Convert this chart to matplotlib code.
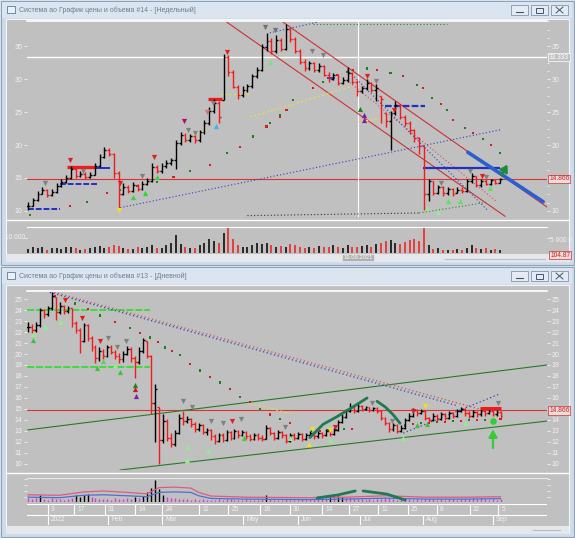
import numpy as np
import matplotlib
matplotlib.use("Agg")
import matplotlib.pyplot as plt
from matplotlib.patches import Rectangle
import matplotlib.transforms as mtransforms

plt.rcParams["font.family"] = ["Liberation Sans", "DejaVu Sans"]

# =====================================================
# Data: weekly chart (#14)
# =====================================================
wk_close = [10.8, 11.6, 12.6, 13.2, 12.4, 12.9, 13.8, 14.4, 15.0, 16.4,
            15.3, 15.6, 15.2, 15.5, 16.8, 18.2, 19.3, 18.6, 15.8, 12.6,
            13.7, 13.1, 13.9, 13.4, 14.1, 14.6, 16.7, 16.1, 16.8, 17.3,
            17.7, 20.3, 21.5, 20.8, 21.3, 20.7, 21.9, 23.3, 25.2, 26.4,
            24.3, 33.3, 31.0, 28.8, 27.6, 28.4, 28.9, 30.4, 31.4, 34.8,
            35.8, 34.3, 35.9, 34.6, 37.6, 36.0, 34.2, 32.6, 31.6, 32.4,
            31.3, 31.9, 30.6, 30.0, 30.6, 29.4, 29.9, 30.9, 29.5, 28.2,
            28.6, 29.4, 28.3, 28.7, 27.0, 23.6, 24.8, 26.0, 24.3, 23.4,
            22.2, 21.0, 19.9, 12.6, 14.5, 12.8, 13.6, 12.7, 13.3, 12.6,
            13.2, 13.0, 14.6, 15.3, 13.9, 14.6, 14.1, 14.7, 14.3, 14.8]
wk_high = [11.3, 12.0, 13.0, 13.7, 13.4, 13.3, 14.2, 14.9, 15.4, 16.8,
           16.6, 16.0, 15.9, 15.9, 17.2, 18.6, 19.7, 19.5, 18.8, 16.0,
           14.2, 13.9, 14.4, 14.1, 14.6, 15.0, 17.3, 16.9, 17.2, 17.7,
           18.1, 20.7, 22.0, 21.8, 21.7, 21.5, 22.3, 23.8, 25.7, 27.0,
           26.6, 33.8, 33.6, 31.4, 29.1, 28.9, 29.3, 30.8, 31.8, 35.3,
           36.9, 36.2, 36.6, 36.2, 38.3, 37.8, 36.3, 34.6, 33.0, 32.8,
           32.6, 32.4, 32.1, 31.0, 30.9, 30.8, 30.3, 31.8, 31.1, 29.8,
           29.0, 30.0, 29.6, 29.2, 27.4, 24.9, 25.2, 26.7, 26.2, 24.6,
           23.7, 22.4, 21.2, 19.9, 14.9, 14.6, 14.0, 13.8, 13.7, 13.5,
           13.6, 13.7, 14.9, 15.7, 15.3, 14.9, 14.9, 14.9, 14.9, 15.0]
wk_low = [10.2, 10.7, 11.5, 12.5, 12.1, 12.2, 12.7, 13.6, 14.3, 14.8,
          15.0, 15.1, 14.9, 15.0, 15.4, 16.6, 18.0, 18.3, 15.0, 10.4,
          12.4, 12.8, 12.9, 13.1, 13.2, 13.9, 14.4, 15.8, 15.8, 16.5,
          17.0, 16.3, 20.0, 20.4, 20.5, 20.3, 20.4, 21.6, 23.0, 24.8,
          23.3, 26.8, 30.5, 28.6, 26.9, 27.3, 28.0, 28.6, 30.1, 31.2,
          34.3, 33.8, 34.0, 34.2, 34.4, 35.6, 33.9, 32.2, 31.2, 31.4,
          31.0, 31.0, 30.4, 29.6, 29.8, 29.1, 29.2, 29.6, 29.2, 27.4,
          27.9, 28.3, 28.0, 26.6, 23.4, 22.7, 19.2, 24.5, 23.9, 22.9,
          21.6, 20.5, 18.6, 10.2, 11.5, 12.4, 12.6, 12.3, 12.4, 12.3,
          12.8, 12.7, 12.9, 14.3, 13.6, 13.7, 13.9, 13.9, 14.1, 14.2]
wk_vol = [0.15, 0.22, 0.18, 0.25, 0.12, 0.18, 0.20, 0.14, 0.22, 0.25,
          0.18, 0.12, 0.14, 0.20, 0.22, 0.28, 0.18, 0.25, 0.32, 0.28,
          0.20, 0.16, 0.14, 0.22, 0.18, 0.25, 0.30, 0.20, 0.18, 0.32,
          0.40, 0.70, 0.35, 0.25, 0.20, 0.18, 0.30, 0.38, 0.55, 0.45,
          0.40, 0.78, 0.95, 0.55, 0.30, 0.25, 0.22, 0.30, 0.40, 0.35,
          0.38, 0.30, 0.25, 0.28, 0.22, 0.35, 0.30, 0.22, 0.18, 0.25,
          0.20, 0.28, 0.22, 0.25, 0.30, 0.22, 0.18, 0.30, 0.25, 0.22,
          0.28, 0.30, 0.22, 0.35, 0.40, 0.45, 0.50, 0.38, 0.35, 0.42,
          0.50, 0.55, 0.45, 0.98, 0.30, 0.15, 0.18, 0.10, 0.12, 0.10,
          0.15, 0.12, 0.20, 0.30, 0.18, 0.15, 0.20, 0.12, 0.15, 0.10]

wk_sar_up_x = [0.4, 8.8, 12.3, 16.5, 19.3, 22.8, 27.0, 30.5, 34.0, 38.2, 41.7, 44.4, 47.2, 50.0, 52.8, 54.2]
wk_sar_up_y = [9.4, 10.8, 11.4, 12.7, 13.2, 13.8, 14.4, 15.1, 16.0, 17.0, 18.8, 19.7, 21.3, 22.8, 24.5, 25.3]
wk_sar2_x = [50.7, 52.8, 55.6, 59.8, 61.9, 64.7, 66.8, 68.2]
wk_sar2_y = [23.3, 24.3, 26.8, 28.6, 29.6, 30.6, 31.1, 31.4]
wk_sar_dn_x = [71.1, 73.2, 76.0, 78.6, 81.6, 82.8, 84.7, 86.5, 87.8, 89.1, 91.6, 93.3, 95.3, 97.0, 99.0]
wk_sar_dn_y = [31.6, 31.4, 30.9, 30.5, 29.1, 28.6, 27.1, 26.2, 25.3, 23.8, 22.6, 21.8, 20.9, 20.0, 18.8]

wk_tri_dn = [(3.5, 14.2, "#808080"), (8.8, 17.7, "#e02020"), (11.5, 16.0, "#808080"),
             (19.3, 14.3, "#e02020"), (23.9, 15.3, "#808080"), (26.4, 18.2, "#e02020"),
             (32.7, 23.6, "#b01060"), (33.5, 22.3, "#808080"), (35.0, 21.8, "#808080"),
             (37.5, 25.0, "#e07070"), (38.8, 26.4, "#808080"), (41.7, 34.1, "#e02020"),
             (49.7, 37.9, "#707070"), (51.7, 37.4, "#707070"), (59.5, 34.2, "#808080"),
             (61.9, 33.6, "#808080"), (71.0, 30.5, "#e02020"), (73.0, 29.7, "#808080"),
             (76.7, 25.3, "#e02020"), (86.6, 14.2, "#808080"), (92.7, 16.1, "#808080"),
             (95.2, 15.3, "#e02020"), (96.0, 15.2, "#808080")]
wk_tri_up = [(22.0, 12.1, "#40d040"), (24.5, 12.7, "#20e020"), (27.0, 15.2, "#40d040"),
             (39.4, 22.9, "#40b0ff"), (50.7, 32.6, "#80e080"), (69.6, 25.5, "#208020"),
             (70.5, 24.5, "#8020a0"), (70.5, 23.8, "#8020a0"), (88.0, 11.5, "#60e060"),
             (90.6, 11.5, "#60e060"), (96.9, 13.5, "#60e060"), (83.6, 10.5, "#90ee90"),
             (86.0, 9.8, "#90ee90")]

# =====================================================
# Data: daily chart (#13)
# =====================================================
dy_close = [22.5, 22.2, 22.6, 24.0, 23.6, 24.2, 25.3, 23.8, 24.4, 23.9,
            24.2, 22.8, 22.2, 21.2, 22.6, 21.5, 20.6, 19.6, 20.3, 19.8,
            20.6, 20.2, 19.8, 19.5, 20.0, 20.5, 19.6, 19.3, 20.3, 21.3,
            19.8, 15.5, 16.8, 12.2, 13.9, 12.4, 11.8, 12.8, 14.2, 13.9,
            14.1, 13.6, 13.2, 13.5, 12.9, 13.1, 12.5, 12.1, 12.6, 12.2,
            12.9, 12.4, 13.0, 12.6, 12.9, 12.5, 12.3, 12.6, 12.4, 12.3,
            13.3, 12.8, 12.4, 12.9, 12.6, 12.1, 12.6, 12.4, 12.7, 12.3,
            12.6, 12.8, 12.5, 12.8, 12.6, 13.0, 12.7, 13.1, 13.8, 14.3,
            14.8, 15.2, 14.8, 15.3, 15.0, 15.2, 14.9, 15.1, 14.8, 14.2,
            13.7, 13.2, 13.5, 13.0, 13.3, 14.0, 14.4, 14.9, 14.6, 14.8,
            14.2, 14.0, 14.4, 14.1, 14.5, 14.2, 14.6, 14.4, 14.8, 15.0,
            14.6, 14.4, 14.7, 14.5, 14.8, 14.6, 14.8, 14.5, 14.7, 14.4]
dy_high = [22.9, 22.7, 22.9, 24.2, 24.1, 24.4, 25.6, 25.2, 24.7, 24.5,
           24.4, 24.2, 23.0, 22.4, 22.8, 22.7, 21.6, 20.8, 20.6, 20.5,
           20.8, 20.8, 20.4, 20.1, 20.3, 20.7, 20.6, 19.8, 20.6, 21.5,
           21.2, 19.9, 17.3, 15.2, 14.5, 14.1, 12.8, 13.1, 14.5, 14.8,
           14.4, 14.2, 13.8, 13.7, 13.6, 13.3, 13.2, 12.7, 12.8, 12.8,
           13.1, 13.0, 13.2, 13.1, 13.1, 13.0, 12.7, 12.8, 12.8, 12.6,
           13.5, 13.4, 12.9, 13.1, 13.0, 12.7, 12.8, 12.8, 12.9, 12.8,
           12.8, 13.0, 12.9, 13.0, 12.9, 13.2, 13.1, 13.3, 14.0, 14.5,
           15.0, 15.5, 15.3, 15.5, 15.4, 15.3, 15.2, 15.2, 15.2, 14.9,
           14.3, 13.8, 13.7, 13.6, 13.5, 14.2, 14.6, 15.1, 15.0, 15.0,
           14.9, 14.3, 14.6, 14.5, 14.7, 14.6, 14.8, 14.7, 15.0, 15.2,
           15.1, 14.8, 14.9, 14.8, 15.0, 14.9, 15.0, 14.9, 14.9, 14.8]
dy_low = [22.0, 21.9, 22.0, 22.5, 23.3, 23.5, 24.0, 23.1, 23.6, 23.6,
          23.7, 22.5, 21.9, 20.1, 21.1, 21.2, 20.3, 19.2, 19.4, 19.5,
          19.7, 20.0, 19.5, 19.2, 19.3, 19.9, 19.3, 17.8, 19.1, 20.1,
          19.6, 14.5, 12.0, 10.0, 11.9, 12.1, 11.5, 11.6, 12.7, 13.5,
          13.7, 13.4, 12.9, 13.0, 12.7, 12.6, 12.2, 11.8, 12.0, 12.0,
          12.1, 12.2, 12.3, 12.4, 12.5, 12.3, 12.1, 12.2, 12.2, 12.1,
          12.3, 12.6, 12.2, 12.3, 12.4, 11.9, 12.0, 12.2, 12.3, 12.1,
          12.2, 12.5, 12.3, 12.4, 12.4, 12.5, 12.5, 12.6, 13.0, 13.7,
          14.2, 14.7, 14.6, 14.7, 14.8, 14.9, 14.7, 14.8, 14.6, 14.0,
          13.5, 12.9, 13.0, 12.8, 12.9, 13.2, 13.9, 14.3, 14.4, 14.5,
          14.0, 13.8, 13.9, 13.9, 14.0, 14.0, 14.1, 14.2, 14.3, 14.7,
          14.4, 14.2, 14.3, 14.3, 14.4, 14.4, 14.5, 14.4, 14.4, 14.2]
dy_vol = [0.15, 0.12, 0.18, 0.30, 0.12, 0.10, 0.15, 0.12, 0.14, 0.10,
          0.12, 0.15, 0.28, 0.22, 0.30, 0.32, 0.20, 0.15, 0.12, 0.14,
          0.12, 0.10, 0.15, 0.12, 0.14, 0.18, 0.12, 0.22, 0.15, 0.25,
          0.40, 0.60, 0.92, 0.55, 0.30, 0.20, 0.18, 0.15, 0.12, 0.14,
          0.12, 0.10, 0.12, 0.10, 0.12, 0.10, 0.08, 0.10, 0.12, 0.10,
          0.14, 0.12, 0.10, 0.08, 0.10, 0.12, 0.10, 0.08, 0.10, 0.12,
          0.30, 0.12, 0.10, 0.08, 0.10, 0.12, 0.10, 0.08, 0.10, 0.12,
          0.10, 0.12, 0.14, 0.12, 0.15, 0.18, 0.24, 0.20, 0.25, 0.22,
          0.18, 0.15, 0.12, 0.14, 0.12, 0.10, 0.12, 0.10, 0.12, 0.14,
          0.15, 0.18, 0.12, 0.10, 0.12, 0.14, 0.12, 0.10, 0.12, 0.10,
          0.12, 0.14, 0.12, 0.10, 0.12, 0.10, 0.14, 0.12, 0.10, 0.12,
          0.14, 0.12, 0.15, 0.12, 0.18, 0.12, 0.10, 0.12, 0.10, 0.12]
dy_ma_x = [0, 8, 14, 19, 25, 30, 33, 37, 41, 43, 46, 55, 70, 80, 90, 100, 110, 119]
dy_ma_pink = [0.30, 0.28, 0.42, 0.46, 0.40, 0.34, 0.60, 0.62, 0.58, 0.40, 0.25, 0.20, 0.18, 0.20, 0.26, 0.20, 0.20, 0.22]
dy_ma_blue = [0.20, 0.18, 0.28, 0.30, 0.26, 0.22, 0.40, 0.42, 0.40, 0.26, 0.15, 0.12, 0.10, 0.12, 0.16, 0.12, 0.12, 0.14]

dy_sar_x = [3.5, 6.8, 11.8, 15.1, 18.1, 21.9, 25.7, 28.2, 30.7, 32.7, 34.5, 36.3, 38.3, 40.8,
            43.3, 45.8, 48.4, 50.9, 53.4, 55.9, 58.4, 61.0, 63.5, 66.0]
dy_sar_y = [25.8, 25.3, 24.6, 24.1, 23.5, 22.9, 22.4, 21.9, 21.5, 21.1, 20.6, 20.3, 19.9, 19.1,
            18.5, 17.9, 17.4, 16.8, 16.1, 15.6, 15.0, 14.5, 14.1, 13.7]
dy_sar_lo_x = [71.5, 73.5, 75.5, 77.5, 79.5, 81.5, 95, 97, 99, 101, 103, 105, 107, 109, 111, 113, 115, 119]
dy_sar_lo_y = [13.0, 13.0, 13.1, 13.1, 13.2, 13.2, 13.5, 13.6, 13.7, 13.7, 13.8, 13.8, 13.9, 13.9, 14.0, 14.0, 14.0, 14.1]

dy_tri_dn = [(9.3, 24.9, "#e02020"), (13.5, 23.3, "#e02020"), (18.1, 21.2, "#e02020"),
             (20.2, 21.5, "#808080"), (22.3, 20.6, "#808080"), (24.7, 21.2, "#808080"),
             (39.0, 15.7, "#808080"), (41.3, 15.2, "#808080"), (46.0, 13.9, "#808080"),
             (49.1, 13.7, "#808080"), (51.4, 13.9, "#e02020"), (53.7, 14.1, "#808080"),
             (64.7, 13.4, "#808080"), (71.5, 13.2, "#f0e020"), (76.0, 13.1, "#f0e020"),
             (77.3, 13.4, "#e02020"), (86.6, 15.5, "#808080"), (91.7, 13.9, "#808080"),
             (97.0, 14.8, "#e02020"), (100.0, 15.3, "#f0e020"), (118.4, 15.5, "#808080")]
dy_tri_up = [(1.3, 21.3, "#40c040"), (1.3, 21.8, "#90ee90"), (4.3, 22.5, "#90ee90"),
             (8.1, 22.9, "#90ee90"), (17.4, 18.7, "#40c040"), (18.8, 19.4, "#60d060"),
             (21.9, 19.0, "#90ee90"), (23.2, 18.4, "#40c040"), (27.0, 17.2, "#208020"),
             (27.0, 16.85, "#c02020"), (27.3, 16.2, "#8020a0"), (40.0, 11.5, "#90ee90"),
             (45.3, 11.2, "#90ee90"), (40.0, 10.4, "#90ee90"), (54.4, 12.4, "#40d040"),
             (66.0, 12.4, "#90ee90"), (70.8, 11.8, "#f0e020"), (76.0, 12.2, "#90ee90"),
             (94.5, 12.4, "#90ee90"), (98.0, 13.5, "#40c040"), (100.5, 13.6, "#40c040"),
             (110.0, 13.7, "#90ee90")]

dy_date_x = [5.0, 11.6, 19.4, 27.0, 33.8, 43.1, 50.4, 58.4, 66.0, 74.1, 80.9, 88.2, 95.7, 103.0, 111.3, 118.4]
dy_date_lbl = ["3", "17", "31", "14", "24", "11", "25", "16", "30", "14", "27", "11", "25", "8", "22", "5"]
dy_month_x = [5.0, 20.2, 33.8, 54.2, 68.0, 83.6, 99.5, 117.1]
dy_month_lbl = ["2022", "Feb", "Mar", "May", "Jun", "Jul", "Aug", "Sep"]

LAST = 14.866
RED = "#f01c1c"
TXT = "#f2f2f2"
W, H = 575, 538


def px_axes(fig, x0, y0, x1, y1):
    return fig.add_axes([x0 / W, 1 - y1 / H, (x1 - x0) / W, (y1 - y0) / H])


def style(ax, xlim, ylim, yticks=(), labels=True):
    ax.set_xlim(xlim)
    ax.set_ylim(ylim)
    ax.set_facecolor("none")
    for s in ax.spines.values():
        s.set_visible(False)
    ax.set_xticks([])
    ax.set_yticks(yticks)
    ax.tick_params(axis="y", which="both", colors=TXT, labelsize=5, length=2.5,
                   width=0.6, pad=1, left=True, right=True,
                   labelleft=labels, labelright=labels)


def hide_right_label(ax, value):
    # the last-price box sits on top of this tick label
    for t, v in zip(ax.yaxis.get_major_ticks(), ax.get_yticks()):
        if abs(v - value) < 1e-6:
            t.label2.set_visible(False)


def draw_bars(ax, c, h, l, tick):
    c, h, l = np.asarray(c), np.asarray(h), np.asarray(l)
    o = np.clip(np.r_[c[0], c[:-1]], l, h)
    x = np.arange(len(c))
    col = np.where(c < o, RED, "black")
    ax.vlines(x, l, h, colors=col, lw=1.0, zorder=4)
    ax.hlines(o, x - tick, x, colors=col, lw=1.0, zorder=4)
    ax.hlines(c, x, x + tick, colors=col, lw=1.0, zorder=4)
    return col


def sar(ax, xs, ys):
    cols = ["#1f7f1f" if k % 2 == 0 else "#d02020" for k in range(len(xs))]
    ax.scatter(xs, ys, s=2.5, marker="s", c=cols, lw=0, zorder=3)


def tris(ax, items, marker):
    for x, y, c in items:
        ax.scatter([x], [y], s=14, marker=marker, color=c, lw=0, zorder=5)


fig = plt.figure(figsize=(W / 100, H / 100), dpi=100)
fig.patch.set_facecolor("#dde6ef")

# window chrome
bg = fig.add_axes([0, 0, 1, 1], zorder=0)
bg.set_xlim(0, W)
bg.set_ylim(H, 0)
bg.axis("off")
for top, bot, title in [(0, 264, "Система ао График цены и объема #14 - [Недельный]"),
                        (266, 536, "Система ао График цены и объема #13 - [Дневной]")]:
    bg.add_patch(Rectangle((0.5, top + 0.5), W - 1.5, bot - top, fc="#cfdbe8", ec="#8da3ba", lw=0.8))
    bg.add_patch(Rectangle((2, top + 2), W - 5, 16, fc="#dbe5ef", ec="none"))
    bg.add_patch(Rectangle((7, top + 6), 8, 7, fc="#eaf0f6", ec="#5a7ca0", lw=0.6))
    bg.text(19, top + 10.5, title, fontsize=5.0, color="#6d7c8c", va="center")
    for bx in (511, 531, 551):
        bg.add_patch(Rectangle((bx, top + 5), 17, 10, fc="#e4ebf2", ec="#8097ae", lw=0.6))
    bg.plot([516, 523], [top + 12, top + 12], color="#44556a", lw=0.8)
    bg.add_patch(Rectangle((536, top + 8), 7, 5, fc="none", ec="#44556a", lw=0.7))
    bg.plot([556, 563], [top + 7, top + 13], color="#44556a", lw=0.7)
    bg.plot([556, 563], [top + 13, top + 7], color="#44556a", lw=0.7)
    bg.add_patch(Rectangle((6, top + 19), 563, bot - top - 22, fc="#c0c0c0", ec="#f4f6f8", lw=0.8))

bg.add_patch(Rectangle((6, 254), 563, 8, fc="#e4e8ec", ec="none"))
bg.add_patch(Rectangle((6, 526), 563, 8, fc="#e4e8ec", ec="none"))
bg.plot([6, 569], [219.5, 219.5], color="white", lw=1.0)
bg.plot([6, 569], [473, 473], color="white", lw=1.0)
bg.plot([445, 545], [259, 259], color="#b8bec4", lw=0.8)
bg.plot([533, 560], [530, 530], color="#b8bec4", lw=0.8)
bg.text(358, 257.5, "19.09.2021", fontsize=4.2, color="white", ha="center", va="center",
        bbox=dict(boxstyle="square,pad=0.15", fc="#b0b0b0", ec="#e8e8e8", lw=0.5))

# =====================================================
# Weekly price panel
# =====================================================
ax1 = px_axes(fig, 27, 21, 547, 217)
style(ax1, (-0.21, 108.8), (9.09, 38.79), [10, 15, 20, 25, 30, 35])
hide_right_label(ax1, 15)
ax1.set_yticks(np.arange(10, 38.8, 1.25), minor=True)
ax1.tick_params(axis="y", which="minor", left=False, length=1.5)
ax1.spines["top"].set_visible(True)
ax1.spines["top"].set_color("white")
ax1.spines["top"].set_linewidth(1.2)

ax1.axhline(33.333, color="white", lw=1.0, zorder=1)
ax1.axhline(LAST, color="#e03030", lw=0.8, zorder=1)
ax1.axvline(69.2, color="white", lw=0.8, zorder=1)

dot = (0, (1, 2))
ax1.plot([41.7, 100.0], [38.6, 9.2], color="#d03030", lw=0.8, zorder=2)
ax1.plot([53.5, 108.8], [38.6, 10.6], color="#d03030", lw=0.8, zorder=2)
ax1.plot([66.9, 98.3], [29.8, 11.4], color="#d05050", lw=0.8, ls=dot, zorder=2)
ax1.plot([66.9, 96.2], [31.4, 10.2], color="#3040c0", lw=0.8, ls=dot, zorder=2)
ax1.plot([19.3, 99.0], [10.5, 22.3], color="#3040c0", lw=0.8, ls=dot, zorder=2)
ax1.plot([50.7, 60.6], [37.0, 38.6], color="#3040c0", lw=0.8, ls=dot, zorder=2)
ax1.plot([59.7, 87.8], [38.3, 38.3], color="#2a8a2a", lw=0.8, ls=dot, zorder=2)
ax1.plot([46.0, 82.0], [9.3, 9.7], color="#303030", lw=0.8, ls=dot, zorder=2)
ax1.plot([82.0, 96.0], [9.7, 11.3], color="#2a8a2a", lw=0.8, ls=dot, zorder=2)
ax1.plot([46.5, 67.5], [24.2, 28.8], color="#e8e040", lw=0.8, ls=(0, (2, 2)), zorder=2)
ax1.plot([34.6, 37.5], [21.5, 22.3], color="#e8e040", lw=0.8, ls=(0, (2, 2)), zorder=2)
ax1.plot([40.3, 46.5], [27.7, 27.7], color="#e8e040", lw=0.8, ls=(0, (2, 2)), zorder=2)
ax1.plot([69.0, 75.3], [23.5, 24.1], color="#e8e040", lw=0.8, ls=(0, (2, 2)), zorder=2)

ax1.hlines(10.35, 0, 6.7, color="#2030c0", lw=1.4, ls=(0, (3, 1)), zorder=3)
ax1.hlines(14.1, 6.7, 14.5, color="#2030c0", lw=1.4, ls=(0, (3, 1)), zorder=3)
ax1.hlines(16.45, 14.0, 17.2, color="#2030c0", lw=1.4, zorder=3)
ax1.hlines(16.6, 8.2, 14.0, color=RED, lw=2.4, zorder=3)
ax1.hlines(27.0, 37.7, 40.7, color=RED, lw=2.4, zorder=3)
ax1.hlines(30.2, 62.7, 64.4, color="#2030c0", lw=1.2, zorder=3)
ax1.hlines(25.9, 74.8, 83.2, color="#2030c0", lw=1.6, ls=(0, (3, 1)), zorder=3)
ax1.hlines(16.5, 82.8, 99.0, color="#2030c0", lw=1.6, zorder=3)

sar(ax1, wk_sar_up_x, wk_sar_up_y)
sar(ax1, wk_sar2_x, wk_sar2_y)
sar(ax1, wk_sar_dn_x, wk_sar_dn_y)

wk_col = draw_bars(ax1, wk_close, wk_high, wk_low, 0.4)
tris(ax1, wk_tri_dn, "v")
tris(ax1, wk_tri_up, "^")
ax1.scatter([19.0], [10.1], s=14, marker="v", color="#f0e020", lw=0, zorder=5)

ax1.plot([92.2, 108.0], [18.9, 11.4], color="#2a5fd0", lw=2.6, solid_capstyle="round", zorder=6)
ax1.annotate("", xy=(100.8, 17.4), xytext=(99.0, 15.1),
             arrowprops=dict(arrowstyle="-|>,head_width=0.25,head_length=0.4",
                             color="#1f8a3c", lw=1.8), zorder=7)

tr1 = mtransforms.blended_transform_factory(ax1.transAxes, ax1.transData)
ax1.text(1.004, 33.333, "33.333", transform=tr1, fontsize=4.8, color="white", va="center",
         bbox=dict(boxstyle="square,pad=0.1", fc="#c0c0c0", ec="white", lw=0.5))
ax1.text(1.004, LAST, "14.866", transform=tr1, fontsize=4.8, color="#d02020", va="center",
         bbox=dict(boxstyle="square,pad=0.1", fc="#ecdcdc", ec="#d03030", lw=0.5))

# weekly volume
ax2 = px_axes(fig, 27, 227, 547, 253)
style(ax2, (-0.21, 108.8), (0, 1.0), [0.58], labels=False)
ax2.spines["top"].set_visible(True)
ax2.spines["top"].set_color("white")
ax2.spines["top"].set_linewidth(0.8)
ax2.vlines(np.arange(len(wk_vol)), 0, wk_vol, colors=wk_col, lw=1.1)
ax2.text(-0.004, 0.58, "10 000", transform=ax2.transAxes, fontsize=4.8, color=TXT,
         ha="right", va="center")
ax2.text(1.006, 0.5, "5 000 0", transform=ax2.transAxes, fontsize=4.8, color=TXT, va="center")
ax2.text(1.006, -0.08, "104.87", transform=ax2.transAxes, fontsize=4.8, color="#d02020",
         va="center", bbox=dict(boxstyle="square,pad=0.1", fc="#ecdcdc", ec="#d03030", lw=0.5))

# =====================================================
# Daily price panel
# =====================================================
ax3 = px_axes(fig, 27, 291, 547, 470)
style(ax3, (-0.25, 130.7), (9.45, 25.73), list(range(10, 26)))
hide_right_label(ax3, 15)
ax3.spines["top"].set_visible(True)
ax3.spines["top"].set_color("white")
ax3.spines["top"].set_linewidth(1.2)

ax3.axhline(LAST, color="#e03030", lw=0.8, zorder=1)
ax3.hlines(24.0, -0.25, 30.8, color="#30e030", lw=1.3, ls=(0, (4, 1)), zorder=2)
ax3.hlines(18.85, -0.25, 30.8, color="#30e030", lw=1.3, ls=(0, (4, 1)), zorder=2)
ax3.plot([0, 130.7], [13.1, 19.0], color="#2a7a2a", lw=0.8, zorder=2)
ax3.plot([23.2, 130.7], [9.45, 13.9], color="#2a7a2a", lw=0.8, zorder=2)
ax3.plot([4.8, 114.6], [25.8, 14.9], color="#d05050", lw=0.9, ls=dot, zorder=2)
ax3.plot([5.5, 108.1], [25.6, 15.3], color="#3040c0", lw=0.9, ls=dot, zorder=2)
ax3.plot([94.5, 119.0], [12.8, 16.4], color="#3040c0", lw=0.9, ls=dot, zorder=2)
ax3.plot([55.9, 66.0], [15.5, 14.6], color="#e8e040", lw=0.8, ls=(0, (2, 2)), zorder=2)

sar(ax3, dy_sar_x, dy_sar_y)
sar(ax3, dy_sar_lo_x, dy_sar_lo_y)

dy_col = draw_bars(ax3, dy_close, dy_high, dy_low, 0.45)
tris(ax3, dy_tri_dn, "v")
tris(ax3, dy_tri_up, "^")
ax3.hlines(15.05, 113.9, 119.0, color=RED, lw=2.2, zorder=5)
ax3.scatter([117.1], [13.9], s=22, marker="o", color="#30d030", lw=0, zorder=5)

ax3.plot([71.0, 74.3, 77.8, 81.9, 85.4], [12.4, 13.6, 14.3, 15.2, 16.0],
         color="#1d7a55", lw=2.0, solid_capstyle="round", zorder=6)
ax3.plot([87.9, 89.9, 91.9, 93.7], [15.7, 15.2, 14.5, 13.7],
         color="#1d7a55", lw=2.0, solid_capstyle="round", zorder=6)
ax3.annotate("", xy=(117.1, 13.4), xytext=(117.1, 11.2),
             arrowprops=dict(arrowstyle="-|>,head_width=0.25,head_length=0.45",
                             color="#38c838", lw=1.6), zorder=7)

tr3 = mtransforms.blended_transform_factory(ax3.transAxes, ax3.transData)
ax3.text(1.004, LAST, "14.866", transform=tr3, fontsize=4.8, color="#d02020", va="center",
         bbox=dict(boxstyle="square,pad=0.1", fc="#ecdcdc", ec="#d03030", lw=0.5))

# daily volume
ax4 = px_axes(fig, 27, 478, 547, 502)
style(ax4, (-0.25, 130.7), (0, 1.0), [0.2, 0.45, 0.7, 0.95], labels=False)
ax4.spines["top"].set_visible(True)
ax4.spines["top"].set_color("#e8e8e8")
ax4.spines["top"].set_linewidth(0.8)
dv = np.asarray(dy_vol)
ax4.vlines(np.arange(len(dv)), 0, dv, colors=np.where(dv > 0.2, "black", "#d040d0"), lw=1.0)
ax4.plot(dy_ma_x, dy_ma_pink, color="#e05a80", lw=0.9)
ax4.plot(dy_ma_x, dy_ma_blue, color="#5070d0", lw=0.9)
ax4.plot([72.8, 77.9, 82.4], [0.17, 0.29, 0.46], color="#1d7a55", lw=2.0, solid_capstyle="round")
ax4.plot([84.4, 90.4, 95.0], [0.46, 0.33, 0.08], color="#1d7a55", lw=2.0, solid_capstyle="round")

# date axis
ax5 = px_axes(fig, 27, 504, 547, 525)
ax5.set_xlim(-0.25, 130.7)
ax5.set_ylim(0, 2)
ax5.axis("off")
ax5.axhline(2, color="white", lw=0.8)
ax5.axhline(1, color="white", lw=0.8)
ax5.axhline(0, color="white", lw=0.8)
for x, t in zip(dy_date_x, dy_date_lbl):
    ax5.vlines(x, 1, 2, color="white", lw=0.8)
    ax5.text(x + 0.8, 1.5, t, fontsize=4.8, color=TXT, va="center")
for x, t in zip(dy_month_x, dy_month_lbl):
    ax5.vlines(x, 0, 1, color="white", lw=0.8)
    ax5.text(x + 0.8, 0.5, t, fontsize=4.8, color=TXT, va="center")

fig.savefig("out.png", dpi=100, facecolor=fig.get_facecolor())
